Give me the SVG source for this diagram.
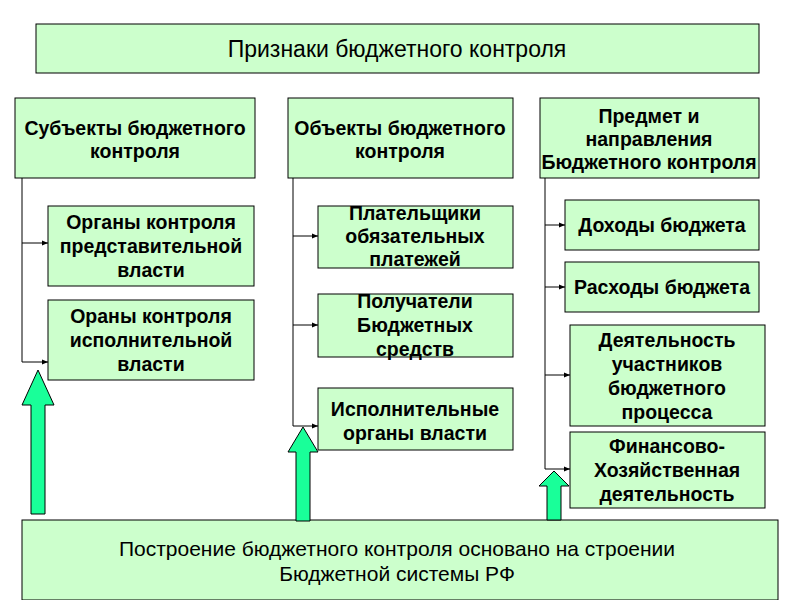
<svg xmlns="http://www.w3.org/2000/svg" width="800" height="600" viewBox="0 0 800 600">
<defs>
<style>
.b{fill:#ccffcc;stroke:#000;stroke-width:1}
.t{font-family:"Liberation Sans",Arial,sans-serif;font-size:19.5px;font-weight:bold;text-anchor:middle;fill:#000}
.n{font-family:"Liberation Sans",Arial,sans-serif;font-size:23px;text-anchor:middle;fill:#000}
.c{fill:none;stroke:#000;stroke-width:1}
.ba{fill:#19ff99;stroke:#000;stroke-width:1}
</style>
<marker id="ah" markerWidth="6" markerHeight="6" refX="6" refY="3" orient="auto" markerUnits="userSpaceOnUse"><path d="M0,0.5 L6,3 L0,5.5z" fill="#000"/></marker>
</defs>
<rect width="800" height="600" fill="#fff"/>
<g id="title"><rect class="b" x="36" y="24" width="723" height="49"/><text class="n" x="397" y="57">Признаки бюджетного контроля</text></g>
<g id="h1"><rect class="b" x="15" y="98" width="240" height="80"/><text class="t" x="135" y="135">Субъекты бюджетного</text><text class="t" x="135" y="158">контроля</text></g>
<g id="h2"><rect class="b" x="288" y="98" width="225" height="80"/><text class="t" x="400" y="135">Объекты бюджетного</text><text class="t" x="400" y="158">контроля</text></g>
<g id="h3"><rect class="b" x="540" y="98" width="219" height="80"/><text class="t" x="649" y="123">Предмет и</text><text class="t" x="649" y="146">направления</text><text class="t" x="649" y="169">Бюджетного контроля</text></g>
<g id="l1"><rect class="b" x="48" y="206" width="206" height="80"/><text class="t" x="151" y="229">Органы контроля</text><text class="t" x="151" y="253">представительной</text><text class="t" x="151" y="277">власти</text></g>
<g id="l2"><rect class="b" x="48" y="300" width="206" height="80"/><text class="t" x="151" y="323">Ораны контроля</text><text class="t" x="151" y="347">исполнительной</text><text class="t" x="151" y="371">власти</text></g>
<g id="m1"><rect class="b" x="318" y="206" width="195" height="62"/><text class="t" x="415" y="220">Плательщики</text><text class="t" x="415" y="243">обязательных</text><text class="t" x="415" y="266">платежей</text></g>
<g id="m2"><rect class="b" x="318" y="294" width="195" height="63"/><text class="t" x="415" y="308">Получатели</text><text class="t" x="415" y="332">Бюджетных</text><text class="t" x="415" y="356">средств</text></g>
<g id="m3"><rect class="b" x="318" y="388" width="195" height="62"/><text class="t" x="415" y="416">Исполнительные</text><text class="t" x="415" y="440">органы власти</text></g>
<g id="r1"><rect class="b" x="565" y="200" width="194" height="50"/><text class="t" x="662" y="232">Доходы бюджета</text></g>
<g id="r2"><rect class="b" x="565" y="262" width="194" height="50"/><text class="t" x="662" y="294">Расходы бюджета</text></g>
<g id="r3"><rect class="b" x="570" y="325" width="195" height="101"/><text class="t" x="667" y="347">Деятельность</text><text class="t" x="667" y="371">участников</text><text class="t" x="667" y="395">бюджетного</text><text class="t" x="667" y="419">процесса</text></g>
<g id="r4"><rect class="b" x="570" y="432" width="195" height="76"/><text class="t" x="667" y="453">Финансово-</text><text class="t" x="667" y="477">Хозяйственная</text><text class="t" x="667" y="501">деятельность</text></g>
<g id="bottom"><rect class="b" x="22" y="520" width="756" height="80"/><text class="n" x="397" y="556" style="font-size:21px">Построение бюджетного контроля основано на строении</text><text class="n" x="397" y="581" style="font-size:21px">Бюджетной системы РФ</text></g>
<g id="connectors">
<path class="c" d="M22,178 V362"/>
<path class="c" d="M22,243 H48" marker-end="url(#ah)"/>
<path class="c" d="M22,362 H48" marker-end="url(#ah)"/>
<path class="c" d="M293,178 V426"/>
<path class="c" d="M293,236 H318" marker-end="url(#ah)"/>
<path class="c" d="M293,325 H318" marker-end="url(#ah)"/>
<path class="c" d="M293,426 H318" marker-end="url(#ah)"/>
<path class="c" d="M545,178 V469"/>
<path class="c" d="M545,225 H565" marker-end="url(#ah)"/>
<path class="c" d="M545,287 H565" marker-end="url(#ah)"/>
<path class="c" d="M545,375 H570" marker-end="url(#ah)"/>
<path class="c" d="M545,469 H570" marker-end="url(#ah)"/>
<path class="ba" d="M31,514 V405 H22 L38,370 L54,405 H45 V514z"/>
<path class="ba" d="M296,521 V452 H288 L303,427 L318,452 H310 V521z"/>
<path class="ba" d="M547,520 V486 H539 L554,471 L569,486 H561 V520z"/>
</g>
</svg>
